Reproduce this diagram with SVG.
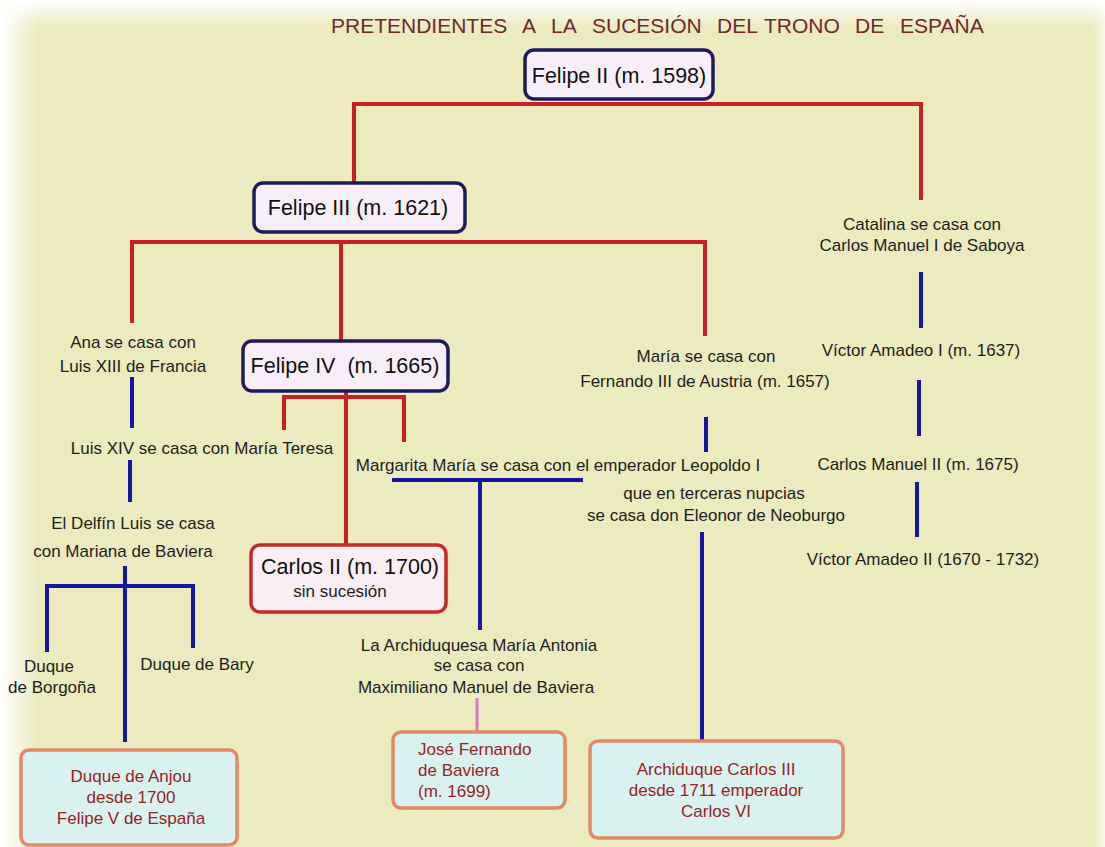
<svg xmlns="http://www.w3.org/2000/svg" width="1105" height="847" viewBox="0 0 1105 847">
<defs>
<linearGradient id="fadeTop" x1="0" y1="0" x2="0" y2="1"><stop offset="0" stop-color="#ffffff" stop-opacity="1"/><stop offset="1" stop-color="#ffffff" stop-opacity="0"/></linearGradient>
<linearGradient id="fadeLeft" x1="0" y1="0" x2="1" y2="0"><stop offset="0" stop-color="#ffffff" stop-opacity="1"/><stop offset="1" stop-color="#ffffff" stop-opacity="0"/></linearGradient>
<linearGradient id="fadeRight" x1="1" y1="0" x2="0" y2="0"><stop offset="0" stop-color="#ffffff" stop-opacity="0.7"/><stop offset="1" stop-color="#ffffff" stop-opacity="0"/></linearGradient>
<style>
text{font-family:"Liberation Sans",Arial,sans-serif;}
.lbl{font-size:17px;fill:#1e1e1e;text-anchor:middle;}
.ttl{font-size:21.5px;fill:#111;text-anchor:middle;}
.red{fill:none;stroke:#c91f28;stroke-width:4;}
.blue{fill:none;stroke:#1616a0;stroke-width:4;}
.pink{fill:none;stroke:#d47cc8;stroke-width:3;}
.navybox{fill:#f7eef8;stroke:#1c1c5c;stroke-width:3.5;}
.redbox{fill:#f9eef3;stroke:#c42a2a;stroke-width:3.5;}
.cyanbox{fill:#d9f1ef;stroke:#e2896a;stroke-width:3.5;}
.dr{font-size:17px;fill:#962424;}
</style>
</defs>
<rect x="0" y="0" width="1105" height="847" fill="#eceabf"/>
<rect x="0" y="0" width="1105" height="28" fill="url(#fadeTop)"/>
<rect x="0" y="0" width="38" height="847" fill="url(#fadeLeft)"/>
<rect x="1093" y="0" width="12" height="847" fill="url(#fadeRight)"/>

<text id="title" x="330" y="33" font-size="21" fill="#6e2a2a"><tspan x="331">PRETENDIENTES</tspan><tspan x="522">A</tspan><tspan x="551">LA</tspan><tspan x="592">SUCESIÓN</tspan><tspan x="717">DEL</tspan><tspan x="764">TRONO</tspan><tspan x="855">DE</tspan><tspan x="900">ESPAÑA</tspan></text>

<g id="connectors">
<path class="red" d="M354,183 V104 H921 V200"/>
<path class="red" d="M132,323 V242 H705 V336"/>
<path class="red" d="M341,242 V341"/>
<path class="red" d="M284,430 V397 H404 V442"/>
<path class="red" d="M346,391 V545"/>
<path class="blue" d="M132,377 V428"/>
<path class="blue" d="M130,460 V502"/>
<path class="blue" d="M125,566 V742"/>
<path class="blue" d="M47,652 V586 H193 V648"/>
<path class="blue" d="M392,480 H583"/>
<path class="blue" d="M480,480 V630"/>
<path class="blue" d="M706,417 V452"/>
<path class="blue" d="M702,532 V741"/>
<path class="blue" d="M921,272 V328"/>
<path class="blue" d="M919,380 V436"/>
<path class="blue" d="M917,482 V537"/>
<path class="pink" d="M477,698 V732"/>
</g>

<g id="felipe2"><rect class="navybox" x="525" y="50" width="188" height="49" rx="9"/><text class="ttl" x="619" y="83">Felipe II (m. 1598)</text></g>
<g id="felipe3"><rect class="navybox" x="254" y="183" width="211" height="49" rx="9"/><text class="ttl" x="358" y="215">Felipe III (m. 1621)</text></g>
<g id="felipe4"><rect class="navybox" x="243" y="341" width="205" height="50" rx="9"/><text class="ttl" x="345" y="373" xml:space="preserve">Felipe IV  (m. 1665)</text></g>
<g id="carlos2"><rect class="redbox" x="251" y="545" width="195" height="67" rx="9"/><text class="ttl" x="350" y="574">Carlos II (m. 1700)</text><text class="lbl" x="340" y="597">sin sucesión</text></g>

<g id="ana"><text class="lbl" x="133" y="348">Ana se casa con</text><text class="lbl" x="133" y="372">Luis XIII de Francia</text></g>
<g id="luis14"><text class="lbl" x="202" y="454">Luis XIV se casa con María Teresa</text></g>
<g id="delfin"><text class="lbl" x="133" y="529">El Delfín Luis se casa</text><text class="lbl" x="123" y="557">con Mariana de Baviera</text></g>
<g id="borgona"><text class="lbl" x="49" y="672">Duque</text><text class="lbl" x="52" y="693">de Borgoña</text></g>
<g id="bary"><text class="lbl" x="197" y="670">Duque de Bary</text></g>
<g id="anjou"><rect class="cyanbox" x="21" y="750" width="216" height="95" rx="8"/><text class="dr" text-anchor="middle"><tspan x="131" y="782">Duque de Anjou</tspan><tspan x="131" y="803">desde 1700</tspan><tspan x="131" y="824">Felipe V de España</tspan></text></g>

<g id="margarita"><text class="lbl" x="558" y="471">Margarita María se casa con el emperador Leopoldo I</text></g>
<g id="archiduquesa"><text class="lbl" x="479" y="651">La Archiduquesa María Antonia</text><text class="lbl" x="479" y="671">se casa con</text><text class="lbl" x="476" y="693">Maximiliano Manuel de Baviera</text></g>
<g id="josefernando"><rect class="cyanbox" x="393" y="732" width="172" height="76" rx="8"/><text class="dr"><tspan x="418" y="755">José Fernando</tspan><tspan x="418" y="776">de Baviera</tspan><tspan x="418" y="797">(m. 1699)</tspan></text></g>

<g id="maria"><text class="lbl" x="706" y="362">María se casa con</text><text class="lbl" x="705" y="387">Fernando III de Austria (m. 1657)</text></g>
<g id="nupcias"><text class="lbl" x="714" y="499">que en terceras nupcias</text><text class="lbl" x="716" y="521">se casa don Eleonor de Neoburgo</text></g>
<g id="archiduque"><rect class="cyanbox" x="590" y="741" width="253" height="97" rx="8"/><text class="dr" text-anchor="middle"><tspan x="716" y="775">Archiduque Carlos III</tspan><tspan x="716" y="796">desde 1711 emperador</tspan><tspan x="716" y="817">Carlos VI</tspan></text></g>

<g id="catalina"><text class="lbl" x="922" y="230">Catalina se casa con</text><text class="lbl" x="922" y="251">Carlos Manuel I de Saboya</text></g>
<g id="victor1"><text class="lbl" x="921" y="356">Víctor Amadeo I (m. 1637)</text></g>
<g id="carlosmanuel2"><text class="lbl" x="918" y="470">Carlos Manuel II (m. 1675)</text></g>
<g id="victor2"><text class="lbl" x="923" y="565">Víctor Amadeo II (1670 - 1732)</text></g>
</svg>
